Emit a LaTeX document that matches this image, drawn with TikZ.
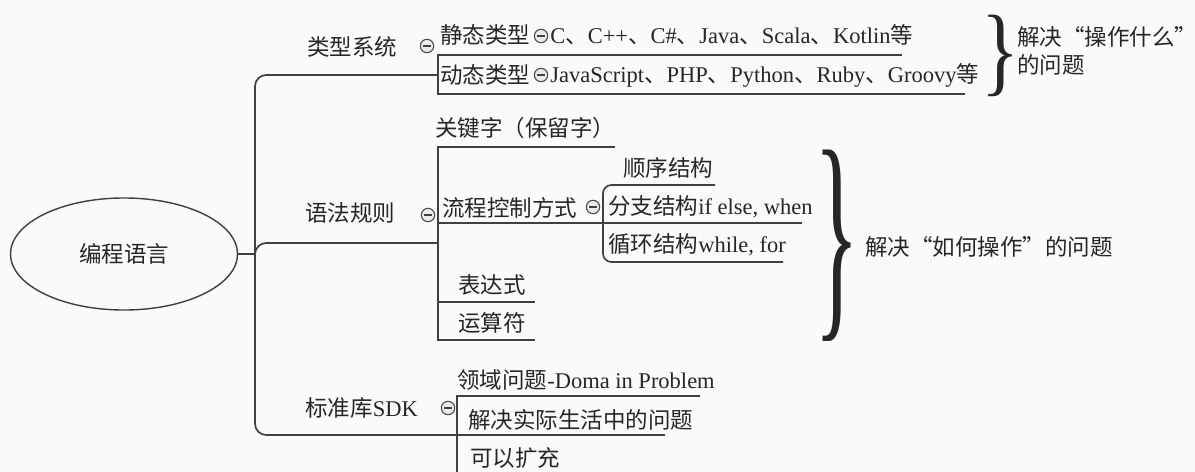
\documentclass[tikz,border=0pt]{standalone}
\usepackage{fontspec}
\setmainfont{Liberation Serif}
\newfontfamily\cjk{Noto Sans CJK SC}
\newcommand{\zh}[1]{{\cjk #1}}
\usetikzlibrary{shapes.geometric}

\begin{document}
\begin{tikzpicture}[x=0.025cm, y=-0.025cm,
topic/.style={anchor=west, inner sep=0pt, text=black!85, font=\fontsize{16}{20}\selectfont},
rootnode/.style={ellipse, draw=black!75, line width=1pt, minimum width=5.675cm, minimum height=2.8cm, inner sep=0pt, text=black!85, font=\fontsize{16}{20}\selectfont},
foldmark/.style={circle, draw=black!70, fill=black!8, line width=0.8pt, minimum size=9.5pt, inner sep=0pt,
  path picture={\draw[black!75, line width=0.9pt] ([xshift=-2.5pt]path picture bounding box.center) -- ([xshift=2.5pt]path picture bounding box.center);}},
bracenode/.style={anchor=west, inner sep=0pt, text=black!85},
link/.style={draw=black!75, line width=1.2pt},
]
\fill[black!2] (0,0) rectangle (1195,472);
\useasboundingbox (0,0) rectangle (1195,472);

%Nodes
\node[rootnode] (root) at (124,254) {\zh{编程语言}};
\coordinate (trunk) at (255,254);

% type system
\node[topic] (typesys) at (307,47) {\zh{类型系统}};
\node[foldmark] (fold1) at (427,46) {};
\coordinate (type-in) at (438,75);
\coordinate (type-top) at (438,55);
\coordinate (type-bot) at (438,94);
\coordinate (static-end) at (902,55);
\coordinate (dynamic-end) at (965,94);
\node[topic] (static) at (440,35) {\zh{静态类型}};
\node[foldmark] (fold11) at (541,36) {};
\node[topic] (staticlang) at (550,35) {C\zh{、}C++\zh{、}C\#\zh{、}Java\zh{、}Scala\zh{、}Kotlin\zh{等}};
\node[topic] (dynamic) at (440,75) {\zh{动态类型}};
\node[foldmark] (fold12) at (541,75) {};
\node[topic] (dynamiclang) at (550,75) {JavaScript\zh{、}PHP\zh{、}Python\zh{、}Ruby\zh{、}Groovy\zh{等}};
\node[bracenode] (brace1) at (981,56) {\resizebox*{27pt}{58pt}{\}}};
\node[topic, align=left] (what) at (1017,51) {\zh{解决“操作什么”}\\\zh{的问题}};

% syntax rules
\node[topic] (syntax) at (305,213) {\zh{语法规则}};
\node[foldmark] (fold2) at (428,215) {};
\coordinate (syn-in) at (438,243);
\coordinate (syn-top) at (438,147);
\coordinate (syn-bot) at (438,340);
\coordinate (keyword-end) at (615,147);
\coordinate (expr-in) at (438,302);
\coordinate (expr-end) at (535,302);
\coordinate (oper-end) at (535,340);
\node[topic] (keyword) at (435,128) {\zh{关键字（保留字）}};
\node[topic] (flow) at (442,208) {\zh{流程控制方式}};
\node[foldmark] (fold21) at (593,207) {};
\coordinate (flow-start) at (438,223);
\coordinate (flow-in) at (603,223);
\coordinate (flow-top) at (603,185);
\coordinate (flow-bot) at (603,262);
\coordinate (seq-end) at (715,185);
\coordinate (branch-end) at (802,223);
\coordinate (loop-end) at (783,262);
\node[topic] (seq) at (623,168) {\zh{顺序结构}};
\node[topic] (branchst) at (608,207) {\zh{分支结构}if else, when};
\node[topic] (loopst) at (608,245) {\zh{循环结构}while, for};
\node[topic] (expr) at (458,285) {\zh{表达式}};
\node[topic] (oper) at (458,323) {\zh{运算符}};
\node[bracenode] (brace2) at (814,246) {\resizebox*{32pt}{136pt}{\}}};
\node[topic] (how) at (865,247) {\zh{解决“如何操作”的问题}};

% standard library
\node[topic] (stdlib) at (305,408) {\zh{标准库}SDK};
\node[foldmark] (fold3) at (448,408) {};
\coordinate (lib-in) at (457,435);
\coordinate (lib-top) at (457,396);
\coordinate (lib-bot) at (457,472);
\coordinate (domain-end) at (700,396);
\coordinate (real-end) at (665,435);
\node[topic] (domain) at (457,380) {\zh{领域问题}-Doma in Problem};
\node[topic] (reallife) at (468,420) {\zh{解决实际生活中的问题}};
\node[topic] (extend) at (470,458) {\zh{可以扩充}};

%Lines
\draw[link] (root.east) -- (trunk);
\draw[link, rounded corners=8] (trunk) |- (type-in);
\draw[link, rounded corners=8] (trunk) |- (syn-in);
\draw[link, rounded corners=8] (trunk) |- (lib-in);
\draw[link] (static-end) -- (type-top) -- (type-bot) -- (dynamic-end);
\draw[link] (keyword-end) -- (syn-top) -- (syn-bot) -- (oper-end);
\draw[link] (flow-start) -- (flow-in);
\draw[link] (expr-in) -- (expr-end);
\draw[link, rounded corners=6] (seq-end) -- (flow-top) -- (flow-bot) -- (loop-end);
\draw[link] (flow-in) -- (branch-end);
\draw[link] (domain-end) -- (lib-top) -- (lib-bot);
\draw[link] (lib-in) -- (real-end);
\end{tikzpicture}
\end{document}
